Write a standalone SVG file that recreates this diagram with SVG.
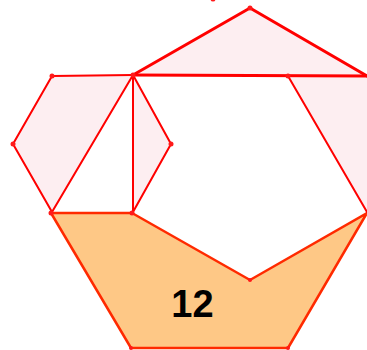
<svg xmlns="http://www.w3.org/2000/svg" width="367" height="350" viewBox="0 0 367 350">
<style>
.pink{fill:#fdeef1;stroke:none}
.orange{fill:#fec886;stroke:#ff2a00;stroke-width:2.5;stroke-linejoin:round}
.ln{fill:none;stroke:#ff0000;stroke-width:2;stroke-linecap:round;stroke-linejoin:round}
.thick{stroke-width:3}
.pt{fill:#ff1a1a}
.lbl{font-family:"Liberation Sans",Arial,sans-serif;font-weight:bold;font-size:38px;fill:#000;text-anchor:middle}
</style>
<rect width="367" height="350" fill="#ffffff"/>
<g id="fills">
<polygon class="pink" points="133,75 250,8 367,76"/>
<polygon class="pink" points="52,76 133,75 52,212 13,144"/>
<polygon class="pink" points="133,75 171,144 133,212"/>
<polygon class="pink" points="288,76 367,76 367,212"/>
</g>
<g id="orange-region">
<polygon class="orange" points="51,213 132,213 250,280 367,213 288,348 131,348"/>
<text class="lbl" x="192.5" y="317">12</text>
</g>
<g id="connectors">
<polyline class="ln thick" points="133,75 250,8 367,76"/>
<line class="ln thick" x1="133" y1="75" x2="367" y2="76"/>
<line class="ln" x1="52" y1="76" x2="133" y2="75"/>
<line class="ln" x1="133" y1="75" x2="133" y2="212"/>
<line class="ln" x1="133" y1="75" x2="52" y2="212"/>
<polyline class="ln" points="133,75 171,144 133,212"/>
<polyline class="ln" points="52,76 13,144 52,212"/>
<line class="ln" x1="288" y1="76" x2="367" y2="212"/>
</g>
<g id="points">
<circle class="pt" cx="213" cy="-1" r="2.5"/>
<circle class="pt" cx="250" cy="8" r="2.5"/>
<circle class="pt" cx="133" cy="75" r="2.5"/>
<circle class="pt" cx="52" cy="76" r="2.5"/>
<circle class="pt" cx="288" cy="76" r="2.5"/>
<circle class="pt" cx="13" cy="144" r="2.5"/>
<circle class="pt" cx="171" cy="144" r="2.5"/>
<circle class="pt" cx="51" cy="213" r="2.5"/>
<circle class="pt" cx="132" cy="213" r="2.5"/>
<circle class="pt" cx="250" cy="280" r="2"/>
<circle class="pt" cx="131" cy="348" r="2"/>
<circle class="pt" cx="288" cy="348" r="2"/>
</g>
</svg>
